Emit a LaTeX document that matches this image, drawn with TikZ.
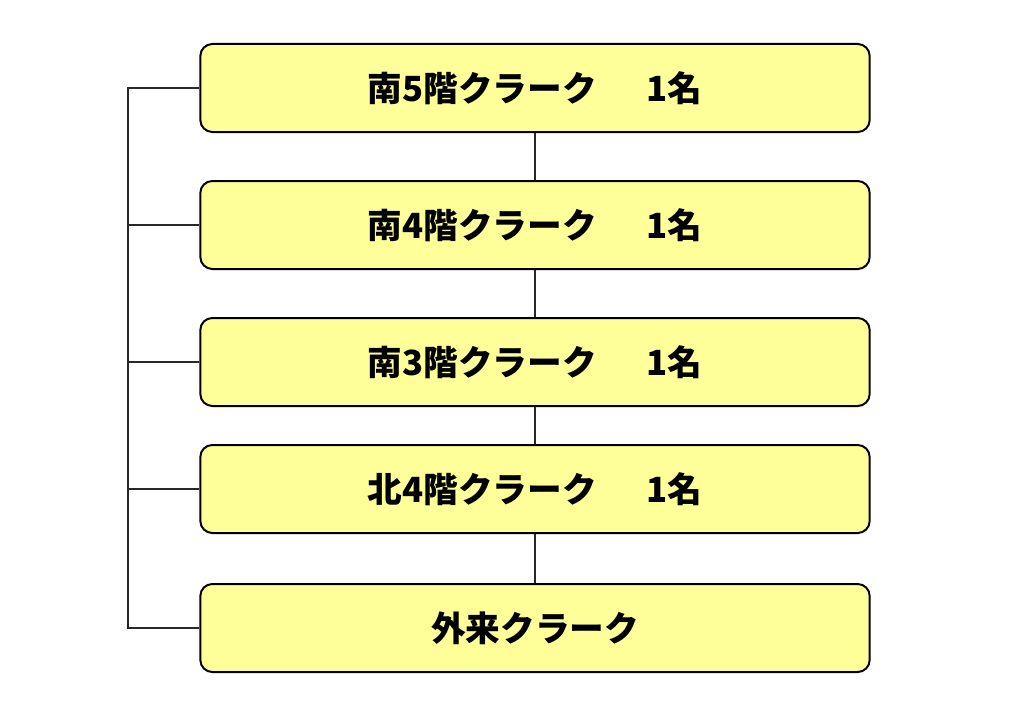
\documentclass[tikz,border=0pt]{standalone}
\usepackage{fontspec}
\newfontfamily\jpfont{Noto Sans CJK JP}
\usetikzlibrary{positioning}
\definecolor{clerkyellow}{RGB}{255,255,153}
\definecolor{linkgray}{RGB}{40,40,40}
\newcommand{\gap}       {\hspace{50\px}}
\newlength{\px}
\setlength{\px}{0.75pt}

\begin{document}
\begin{tikzpicture}[x=0.75pt,y=-0.75pt,
    clerk/.style={draw=black,line width=1.5pt,fill=clerkyellow,rounded corners=9pt,
      minimum width=502pt,minimum height=66pt,inner sep=0pt,
      font=\jpfont\bfseries\fontsize{26}{31}\selectfont},
    link/.style={draw=linkgray,line width=0.9pt}]
       \useasboundingbox (0,0) rectangle (1024,724);
       % boxes
       \node[clerk] (s5) at (535,88)  {南5階クラーク\gap 1名};
       \node[clerk] (s4) at (535,225) {南4階クラーク\gap 1名};
       \node[clerk] (s3) at (535,362) {南3階クラーク\gap 1名};
       \node[clerk] (n4) at (535,489) {北4階クラーク\gap 1名};
       \node[clerk] (gai) at (535,628) {外来クラーク};
       % vertical links
       \draw[link] (s5.south) -- (s4.north);
       \draw[link] (s4.south) -- (s3.north);
       \draw[link] (s3.south) -- (n4.north);
       \draw[link] (n4.south) -- (gai.north);
       % left bracket
       \coordinate (spine) at (128,88);
       \draw[link] (s5.west) -- (spine) |- (gai.west);
       \draw[link] (s4.west) -- (s4.west -| spine);
       \draw[link] (s3.west) -- (s3.west -| spine);
       \draw[link] (n4.west) -- (n4.west -| spine);
\end{tikzpicture}
\end{document}
